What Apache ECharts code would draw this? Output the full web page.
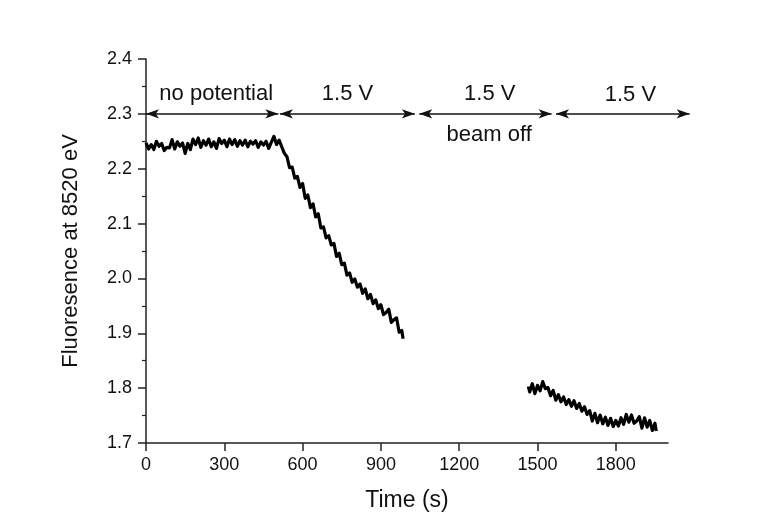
<!DOCTYPE html>
<html>
<head>
<meta charset="utf-8">
<script src="https://cdn.jsdelivr.net/npm/echarts@6/dist/echarts.min.js"></script>
<style>
html,body{margin:0;padding:0;background:#fff;}
#chart{width:762px;height:525px;}
</style>
</head>
<body>
<div id="chart"></div>
<script>
// ---- data ----
var seg1Time = [0,10,20,30,40,50,60,70,80,90,100,110,120,130,140,150,160,170,180,190,200,210,220,230,240,250,260,270,280,290,300,310,320,330,340,350,360,370,380,390,400,410,420,430,440,450,460,470,480,490,500,510,
  520,530,540,550,560,570,580,590,600,610,620,630,640,650,660,670,680,690,700,710,720,730,740,750,760,770,780,790,800,810,820,830,840,850,860,870,880,890,900,910,920,930,940,950,960,970,980,985];
var seg1Value = [2.247,2.236,2.244,2.235,2.250,2.241,2.246,2.233,2.239,2.238,2.253,2.236,2.249,2.241,2.247,2.228,2.246,2.235,2.254,2.244,2.256,2.239,2.251,2.243,2.254,2.240,2.249,2.237,2.255,2.246,2.252,2.240,2.254,2.244,2.253,2.241,2.251,2.243,2.252,2.240,2.250,2.245,2.251,2.239,2.249,2.243,2.250,2.237,2.248,2.259,2.244,2.252,
  2.240,2.228,2.222,2.202,2.203,2.183,2.186,2.166,2.173,2.146,2.152,2.129,2.136,2.112,2.118,2.092,2.094,2.074,2.078,2.061,2.064,2.040,2.046,2.025,2.028,2.006,2.010,1.993,1.999,1.984,1.990,1.973,1.981,1.963,1.971,1.954,1.961,1.945,1.952,1.934,1.938,1.944,1.920,1.925,1.928,1.902,1.905,1.890];
var seg2Time = [1465,1470,1480,1490,1500,1510,1520,1530,1540,1550,1560,1570,1580,1590,1600,1610,1620,1630,1640,1650,1660,1670,1680,1690,1700,1710,1720,1730,1740,1750,1760,1770,1780,1790,1800,1810,1820,1830,1840,1850,1860,1870,1880,1890,1900,1910,1920,1930,1940,1950,1955];
var seg2Value = [1.803,1.793,1.808,1.790,1.805,1.795,1.812,1.799,1.801,1.786,1.796,1.778,1.788,1.775,1.784,1.770,1.779,1.767,1.777,1.763,1.772,1.758,1.766,1.752,1.759,1.740,1.754,1.737,1.751,1.735,1.747,1.732,1.745,1.730,1.741,1.731,1.746,1.734,1.752,1.738,1.751,1.736,1.740,1.748,1.727,1.746,1.729,1.741,1.723,1.736,1.722];
var xTicks = [0,300,600,900,1200,1500,1800];
// arrows at y = 2.3 : [start, end] in seconds
var arrowSpans = [[0,507],[513,1030],[1047,1554],[1571,2083]];
var arrowLevel = 2.3;
// text annotations
var noteText = ['no potential','1.5 V','1.5 V','1.5 V','beam off'];
var noteX = [269,772,1317,1856,1315];
var noteY = [2.337,2.337,2.337,2.334,2.262];

function pairs(t, v){ var out=[]; for(var i=0;i<t.length;i++) out.push([t[i], v[i]]); return out; }

var FONT = '"Liberation Sans", Arial, sans-serif';
var chart = echarts.init(document.getElementById('chart'), null, {renderer:'canvas'});
chart.setOption({
  animation:false,
  backgroundColor:'#ffffff',
  grid:{left:146, right:94, top:59, bottom:82},
  xAxis:{
    type:'value', min:0, max:2000,
    name:'Time (s)', nameLocation:'middle', nameGap:46,
    nameTextStyle:{fontFamily:FONT, fontSize:23, color:'#111'},
    axisLine:{show:true, lineStyle:{color:'#222', width:1.5}},
    axisTick:{show:true, inside:false, length:8, lineStyle:{color:'#222', width:1.5}, customValues:xTicks},
    axisLabel:{fontFamily:FONT, fontSize:18, color:'#111', margin:13, customValues:xTicks, formatter:function(v){return String(v);}},
    splitLine:{show:false}
  },
  yAxis:{
    type:'value', min:1.7, max:2.4, interval:0.1,
    name:'Fluoresence at 8520 eV', nameLocation:'middle', nameGap:64,
    nameTextStyle:{fontFamily:FONT, fontSize:22, color:'#111'},
    axisLine:{show:true, lineStyle:{color:'#222', width:1.5}},
    axisTick:{show:true, inside:false, length:8, lineStyle:{color:'#222', width:1.5}},
    minorTick:{show:true, splitNumber:2, length:4, lineStyle:{color:'#222', width:1.2}},
    axisLabel:{fontFamily:FONT, fontSize:18, color:'#111', margin:14, formatter:function(v){return v.toFixed(1);}},
    splitLine:{show:false}
  },
  series:[
    {
      type:'line', data:pairs(seg1Time, seg1Value), symbol:'none',
      lineStyle:{color:'#000', width:3.2, join:'round'}, silent:true,
      markPoint:{
        silent:true, animation:false, symbol:'circle', symbolSize:0,
        label:{show:true, position:'inside', formatter:'{b}', fontFamily:FONT, fontSize:22, color:'#111'},
        data: noteText.map(function(t,i){ return {name:t, coord:[noteX[i], noteY[i]]}; })
      }
    },
    {
      type:'line', data:pairs(seg2Time, seg2Value), symbol:'none',
      lineStyle:{color:'#000', width:3.2, join:'round'}, silent:true
    }
  ]
});

// arrows: positions converted through the chart's own scales (extrapolated beyond the axis end)
var arrowData = arrowSpans.map(function(s){
  var a = chart.convertToPixel({xAxisIndex:0, yAxisIndex:0}, [s[0], arrowLevel]);
  var b = chart.convertToPixel({xAxisIndex:0, yAxisIndex:0}, [s[1], arrowLevel]);
  return [{x:a[0], y:a[1], symbolSize:[7,13]},{x:b[0], y:b[1], symbolSize:[7,13]}];
});
chart.setOption({
  series:[{
    markLine:{
      silent:true, animation:false,
      symbol:['arrow','arrow'], symbolSize:[10,10],
      lineStyle:{color:'#111', width:1.5, type:'solid'},
      label:{show:false},
      data: arrowData
    }
  }]
});
</script>
</body>
</html>
